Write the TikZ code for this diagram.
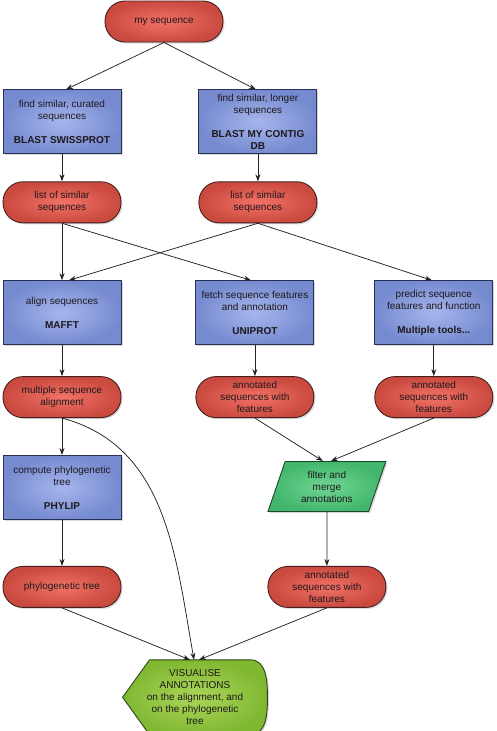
\documentclass[tikz,border=0pt]{standalone}
\usepackage{fontspec}
\setmainfont{Liberation Sans}
\usetikzlibrary{
	arrows.meta,
	positioning,
	shapes.geometric,
	shadows,
	backgrounds
}
\definecolor{datalight}{RGB}{242,114,102}
\definecolor{datadark}{RGB}{202,74,64}
\definecolor{databorder}{RGB}{70,32,30}
\definecolor{toollight}{RGB}{166,182,236}
\definecolor{tooldark}{RGB}{118,138,208}
\definecolor{toolborder}{RGB}{40,48,86}
\definecolor{mergelight}{RGB}{112,214,148}
\definecolor{mergedark}{RGB}{66,182,108}
\definecolor{mergeborder}{RGB}{30,70,40}
\definecolor{vislight}{RGB}{172,214,88}
\definecolor{visdark}{RGB}{128,184,50}
\definecolor{visborder}{RGB}{44,70,24}
\definecolor{edgegray}{RGB}{35,35,35}
\definecolor{nodetext}{RGB}{30,24,28}
\tikzset{
	flowedge/.style={-{Stealth[length=7pt, width=5pt]}, line width=0.75pt, color=edgegray},
	shadowed/.style={drop shadow={shadow xshift=1.5pt, shadow yshift=-1.5pt, opacity=0.3}},
	basenode/.style={font=\fontsize{10}{12}\selectfont, text=nodetext, align=center, line width=0.9pt, minimum width=118pt, inner sep=2pt},
	datanode/.style={basenode, shadowed, rectangle, rounded corners=20pt, minimum height=41pt, draw=databorder, inner color=datalight, outer color=datadark},
	toolnode/.style={basenode, shadowed, rectangle, minimum height=64pt, draw=toolborder, inner color=toollight, outer color=tooldark},
	mergenode/.style={basenode, shadowed, trapezium, trapezium left angle=72, trapezium right angle=108, trapezium stretches=true, minimum height=50pt, draw=mergeborder, inner color=mergelight, outer color=mergedark},
	visnode/.style={basenode, rectangle, minimum width=144pt, minimum height=74pt},
	visshape/.style={shadowed, draw=visborder, line width=0.9pt, inner color=vislight, outer color=visdark}
}
\begin{document}
\begin{tikzpicture}
	\useasboundingbox (0,0) rectangle (497pt,-731pt);

	\node[datanode] (seq) at (164pt,-21.5pt) {my sequence};
	\node[toolnode] (curated) [below=47pt of seq, xshift=-102pt] {find similar, curated\\sequences\\[12pt]\textbf{BLAST SWISSPROT}};
	\node[toolnode] (longer) [right=77pt of curated] {find similar, longer\\sequences\\[12pt]\textbf{BLAST MY CONTIG}\\\textbf{DB}};
	\node[datanode] (hits1) [below=27pt of curated] {list of similar\\sequences};
	\node[datanode] (hits2) [below=27pt of longer] {list of similar\\sequences};
	\node[toolnode] (align) [below=57pt of hits1] {align sequences\\[12pt]\textbf{MAFFT}};
	\node[toolnode] (fetch) [right=74pt of align] {fetch sequence features\\and annotation\\[12pt]\textbf{UNIPROT}};
	\node[toolnode] (predict) [right=60pt of fetch] {predict sequence\\features and function\\[12pt]\textbf{Multiple tools...}};
	\node[datanode] (msa) [below=31pt of align] {multiple sequence\\alignment};
	\node[datanode] (annot1) [below=31pt of fetch] {annotated\\sequences with\\features};
	\node[datanode] (annot2) [below=31pt of predict] {annotated\\sequences with\\features};
	\node[toolnode] (phylip) [below=37pt of msa] {compute phylogenetic\\tree\\[12pt]\textbf{PHYLIP}};
	\node[mergenode] (merge) [below=43pt of annot1, xshift=72pt] {filter and\\merge\\annotations};
	\node[datanode] (tree) [below=46pt of phylip] {phylogenetic tree};
	\node[datanode] (annot3) [below=54pt of merge] {annotated\\sequences with\\features};
	\node[visnode] (vis) [below=52pt of tree, xshift=133pt] {VISUALISE\\ANNOTATIONS\\on the alignment, and\\on the phylogenetic\\tree};

	\begin{scope}[on background layer]
		\path[visshape] (vis.west) -- ([xshift=27pt]vis.north west) -- ([xshift=-17pt]vis.north east)
			to[out=0, in=90] (vis.east) to[out=-90, in=0] ([xshift=-17pt]vis.south east)
			-- ([xshift=27pt]vis.south west) -- cycle;
	\end{scope}

	\path[flowedge]
		(seq.south) edge ([xshift=4pt]curated.north)
			edge ([xshift=-2pt]longer.north)
		(curated) edge (hits1)
		(longer) edge (hits2)
		(hits1.south) edge (align.north)
			edge ([xshift=-4pt]fetch.north)
		(hits2.south) edge ([xshift=7pt]align.north)
			edge ([xshift=-2pt]predict.north)
		(align) edge (msa)
		(fetch) edge (annot1)
		(predict) edge (annot2)
		(msa) edge (phylip)
		(phylip) edge (tree)
		(annot1.south) edge ([xshift=-4pt]merge.north)
		(annot2.south) edge ([xshift=4pt]merge.north)
		(merge) edge (annot3)
		(tree.south) edge ([xshift=-5pt]vis.north)
		(msa.south) edge[out=-15, in=100] ([xshift=-1pt]vis.north)
		(annot3.south) edge ([xshift=4pt]vis.north)
	;
\end{tikzpicture}
\end{document}
